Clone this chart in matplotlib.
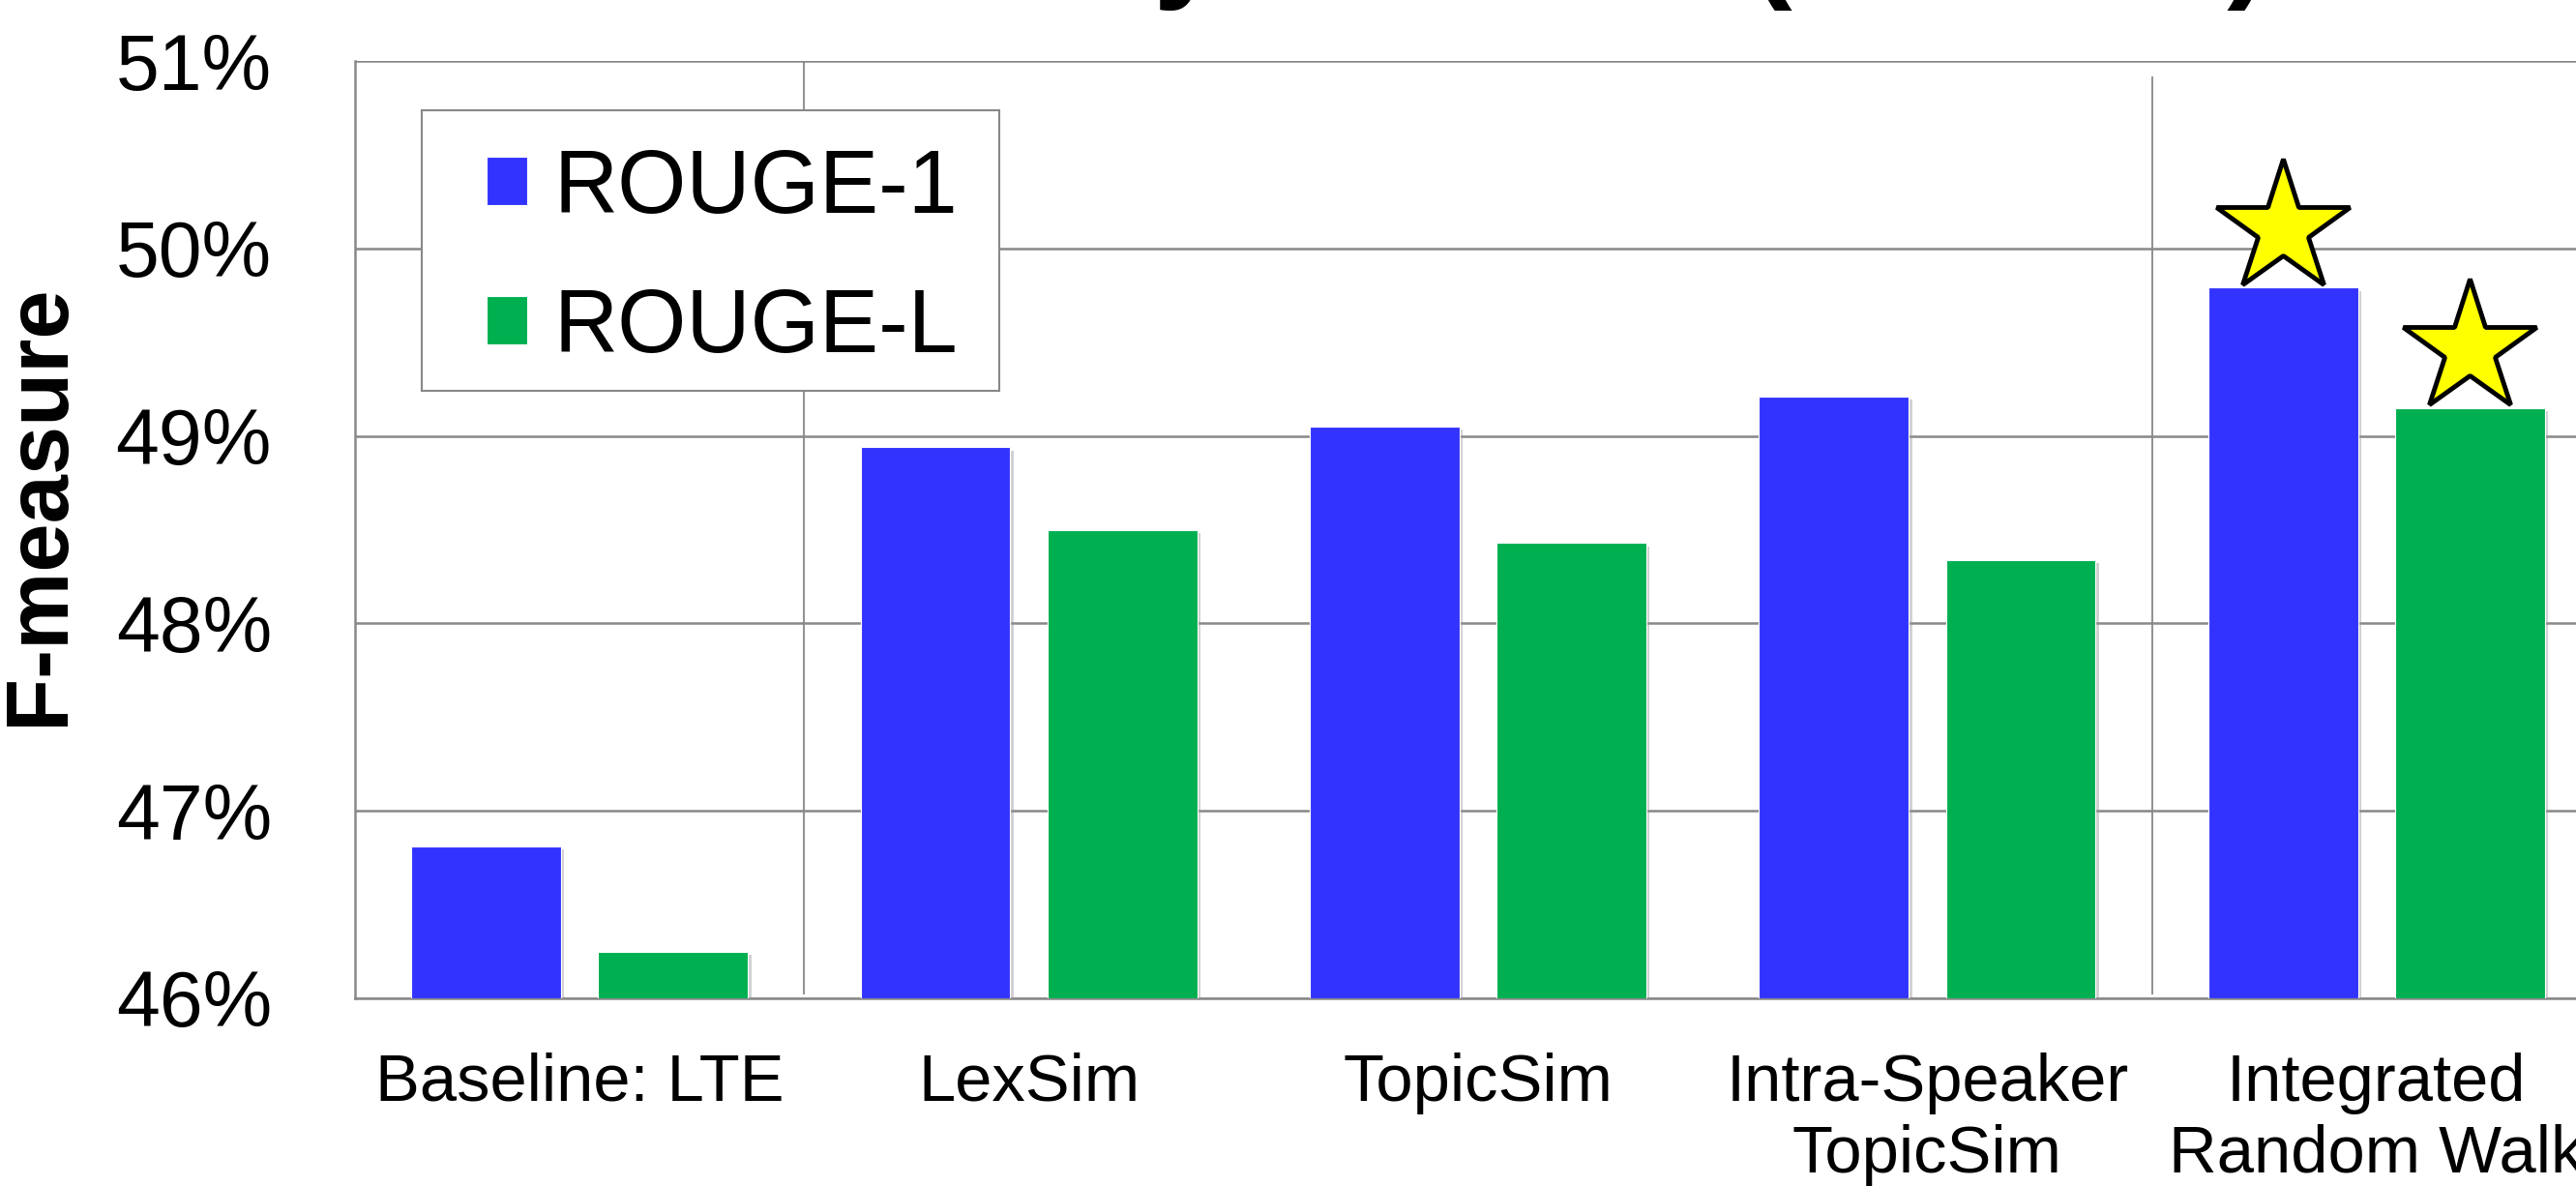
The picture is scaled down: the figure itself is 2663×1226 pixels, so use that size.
import numpy as np
import matplotlib
matplotlib.use("Agg")
import matplotlib.pyplot as plt
import matplotlib.patheffects as pe
from matplotlib.patches import Rectangle
from matplotlib.transforms import offset_copy

plt.rcParams["font.family"] = ["Liberation Sans", "DejaVu Sans"]

# ---- data ----
categories = ["Baseline: LTE", "LexSim", "TopicSim",
              "Intra-Speaker\nTopicSim", "Integrated\nRandom Walk"]
series_names = ["ROUGE-1", "ROUGE-L"]
rouge_1 = [46.81, 48.94, 49.05, 49.21, 49.79]
rouge_l = [46.25, 48.50, 48.43, 48.34, 49.15]
y_ticks = [46, 47, 48, 49, 50, 51]
y_tick_labels = ["46%", "47%", "48%", "49%", "50%", "51%"]
title_text = "Summary Results (Manual)"
y_label = "F-measure"

colors = ["#3333FF", "#00AF50"]
grid_gray = "#888888"

W, H = 2663, 1226
fig = plt.figure(figsize=(W / 100, H / 100), dpi=100)
ax = fig.add_axes([367 / W, 1 - 1032 / H, (2689 - 367) / W, (1032 - 63) / H])

x = np.arange(len(categories))
bar_w = 0.333
offsets = [-0.208, 0.208]
shadow = [pe.SimplePatchShadow(offset=(2.5, -2.5), shadow_rgbFace="#999999", alpha=0.45),
          pe.Normal()]

for vals, off, col, name in zip([rouge_1, rouge_l], offsets, colors, series_names):
    b = ax.bar(x + off, np.array(vals) - 46, bottom=46, width=bar_w, color=col,
               edgecolor="white", linewidth=0.8, label=name, zorder=3)
    for p in b:
        p.set_path_effects(shadow)

# stars on the best system of each metric
star_tr = offset_copy(ax.transData, fig=fig, y=44, units="points")
for vals, off in zip([rouge_1, rouge_l], offsets):
    i = int(np.argmax(vals))
    ax.plot([x[i] + off], [vals[i]], marker="*", markersize=104,
            markerfacecolor="#FFFF00", markeredgecolor="black",
            markeredgewidth=3.5, transform=star_tr, zorder=5, clip_on=False)

ax.set_xlim(-0.5, len(categories) - 0.5)
ax.set_ylim(46, 51)
ax.set_yticks(y_ticks)
ax.set_yticklabels(y_tick_labels)
ax.yaxis.grid(True, color=grid_gray, linewidth=1.8, zorder=0)
ax.set_axisbelow(True)

# group separators
ax.vlines([0.5], 46.02, 51, color=grid_gray, linewidth=1.3, zorder=1)
ax.vlines([3.5], 46.02, 50.92, color=grid_gray, linewidth=1.3, zorder=1)

for s in ["top", "right"]:
    ax.spines[s].set_visible(False)
for s in ["left", "bottom"]:
    ax.spines[s].set_color(grid_gray)
    ax.spines[s].set_linewidth(1.8)

ax.set_xticks(x)
ax.set_xticklabels(categories, fontsize=49.5, linespacing=1.2)
ax.tick_params(axis="x", length=0, pad=40)
ax.tick_params(axis="y", length=0, pad=62, labelsize=58)

fig.text(42 / W, 1 - 522 / H, y_label, rotation=90, ha="center", va="center",
         fontsize=65, fontweight="bold")

fig.text(670 / W, 1 + 16 / H, title_text, ha="left", va="baseline",
         fontsize=94, fontweight="bold")

# legend: framed box with the entries placed inside it
ax.add_patch(Rectangle((436 / W, 1 - 404 / H), (1033 - 436) / W, (404 - 114) / H,
                       transform=fig.transFigure, facecolor="white",
                       edgecolor=grid_gray, linewidth=1.5, zorder=6, clip_on=False))
leg = ax.legend(loc="upper left", bbox_to_anchor=(503 / W, 1 - 153 / H),
                bbox_transform=fig.transFigure, fontsize=66, frameon=False,
                handlelength=0.46, handleheight=0.46, handletextpad=0.3,
                labelspacing=0.63, borderpad=0, borderaxespad=0)
leg.set_zorder(7)
for h in leg.legend_handles:
    h.set_path_effects([])

fig.savefig("out.png", dpi=100)
